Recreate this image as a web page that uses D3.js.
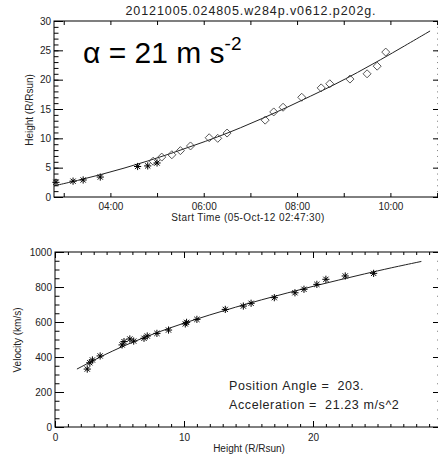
<!DOCTYPE html>
<html>
<head>
<meta charset="utf-8">
<script src="https://cdn.jsdelivr.net/npm/d3@7"></script>
<style>
  body { margin: 0; background: #fff; }
  text { font-family: "Liberation Sans", Arial, sans-serif; fill: #222; }
</style>
</head>
<body>
<div class="canvas"></div>
<script>
// height-time points (time UT, height R/Rsun)
const starTimes = ['02:50', '03:12', '03:25', '03:47', '04:35', '04:48', '05:00'];
const starHeights = [2.5, 2.7, 2.9, 3.4, 5.2, 5.3, 5.8];
const diamondTimes = ['04:55', '05:06', '05:19', '05:30', '05:43', '06:07', '06:18', '06:30',
  '07:19', '07:30', '07:42', '08:06', '08:31', '08:42', '09:08', '09:30', '09:43', '09:54'];
const diamondHeights = [6.1, 6.8, 7.2, 7.9, 8.7, 10.1, 10.0, 10.9,
  13.1, 14.5, 15.3, 17.0, 18.6, 19.3, 20.1, 21.0, 22.3, 24.7];
const fitTimes = ['02:47:30', '03:17:30', '03:47:30', '04:17:30', '04:47:30', '05:17:30', '05:47:30',
  '06:17:30', '06:47:30', '07:17:30', '07:47:30', '08:17:30', '08:47:30', '09:17:30', '09:47:30',
  '10:17:30', '10:51:00'];
const fitHeights = [1.9, 2.8, 3.8, 4.9, 6.1, 7.4, 8.8, 10.2, 11.8, 13.5, 15.3, 17.2, 19.1, 21.2,
  23.4, 25.7, 28.3];

// velocity-height points
const velHeights = [2.5, 2.7, 2.9, 3.5, 5.2, 5.35, 5.8, 6.1, 6.9, 7.15, 7.9, 8.8, 10.1, 10.2, 11.0,
  13.2, 14.6, 15.2, 17.0, 18.6, 19.3, 20.3, 21.0, 22.5, 24.7];
const velocities = [331, 367, 383, 406, 469, 488, 503, 491, 507, 520, 535, 554, 589, 598, 615,
  672, 691, 707, 739, 767, 787, 815, 844, 863, 878];
const velFitHeights = [1.7, 4, 6, 8, 10, 12, 14, 16, 18, 20, 22, 24, 26, 28.4];
const velFitValues = [331, 420, 485, 543, 594, 641, 685, 727, 766, 804, 840, 875, 909, 946];

const heightTicks = [0, 5, 10, 15, 20, 25, 30];
const velTicks = [0, 200, 400, 600, 800, 1000];
const radiusTicks = [0, 10, 20, 30];
const radiusLabels = ['0', '10', '20', ''];

const title = '20121005.024805.w284p.v0612.p202g.';
const startLabel = 'Start Time (05-Oct-12 02:47:30)';
const notes = ['Position Angle =  203.', 'Acceleration =  21.23 m/s^2'];

const W = 438, H = 455;
const parse = d3.utcParse('%H:%M:%S');
const t = s => parse(s.length === 5 ? s + ':00' : s);

const svg = d3.select('.canvas').append('svg')
  .attr('width', W).attr('height', H);
svg.append('rect').attr('width', W).attr('height', H).attr('fill', '#fff');

// ---- upper panel: height vs time
const p1 = { left: 54, right: 442, top: 21, bottom: 197 };
const x1 = d3.scaleUtc()
  .domain([t('02:47:30'), t('11:06:20')])
  .range([p1.left, p1.right]);
const y1 = d3.scaleLinear().domain([0, 30]).range([p1.bottom, p1.top]);

const fmtHour = d3.utcFormat('%H:%M');
const hours = d3.utcHour.range(t('03:00'), t('11:30'));

const g1 = svg.append('g');

const axisStyle = (sel) => {
  sel.select('.domain').remove();
  sel.selectAll('line').attr('stroke', '#000');
  sel.selectAll('text').attr('font-size', 10).attr('fill', '#222')
    .attr('font-family', '"Liberation Sans", Arial, sans-serif');
};

g1.append('g').attr('transform', `translate(0,${p1.bottom})`)
  .call(d3.axisBottom(x1).tickValues(hours).tickSizeInner(-4).tickSizeOuter(0).tickPadding(6)
    .tickFormat(d => d.getUTCHours() % 2 === 0 ? fmtHour(d) : ''))
  .call(axisStyle);
g1.append('g').attr('transform', `translate(0,${p1.top})`)
  .call(d3.axisTop(x1).tickValues(hours).tickSizeInner(-4).tickSizeOuter(0).tickFormat(''))
  .call(axisStyle);

g1.append('g').attr('transform', `translate(${p1.left},0)`)
  .call(d3.axisLeft(y1).tickValues(heightTicks).tickSizeInner(-9).tickSizeOuter(0).tickPadding(3))
  .call(axisStyle);
g1.append('g').attr('transform', `translate(${p1.left},0)`)
  .call(d3.axisLeft(y1).ticks(30).tickSizeInner(-4.5).tickSizeOuter(0).tickFormat(''))
  .call(axisStyle);
g1.append('g').attr('transform', `translate(${p1.right},0)`)
  .call(d3.axisLeft(y1).tickValues(heightTicks).tickSize(9).tickFormat(''))
  .call(axisStyle);
g1.append('g').attr('transform', `translate(${p1.right},0)`)
  .call(d3.axisLeft(y1).ticks(30).tickSize(4.5).tickFormat(''))
  .call(axisStyle);

g1.append('rect')
  .attr('x', p1.left).attr('y', p1.top)
  .attr('width', p1.right - p1.left).attr('height', p1.bottom - p1.top)
  .attr('fill', 'none').attr('stroke', '#000').attr('stroke-width', 1);

const fit1 = fitTimes.map((s, i) => [t(s), fitHeights[i]]);
g1.append('path')
  .attr('d', d3.line().x(d => x1(d[0])).y(d => y1(d[1])).curve(d3.curveBasis)(fit1))
  .attr('fill', 'none').attr('stroke', '#222').attr('stroke-width', 1);

const star = (sel, px, py) => {
  const r = 3.6;
  const k = r * 0.72;
  sel.append('path')
    .attr('d', `M${px - r},${py}H${px + r}M${px},${py - r}V${py + r}` +
      `M${px - k},${py - k}L${px + k},${py + k}` +
      `M${px - k},${py + k}L${px + k},${py - k}`)
    .attr('stroke', '#000').attr('stroke-width', 1).attr('fill', 'none');
};
const diamond = (sel, px, py) => {
  const r = 4;
  sel.append('path')
    .attr('d', `M${px},${py - r}L${px + r},${py}L${px},${py + r}L${px - r},${py}Z`)
    .attr('stroke', '#444').attr('stroke-width', 0.9).attr('fill', 'none');
};

diamondTimes.forEach((s, i) => diamond(g1, x1(t(s)), y1(diamondHeights[i])));
starTimes.forEach((s, i) => star(g1, x1(t(s)), y1(starHeights[i])));

svg.append('text').attr('x', 251).attr('y', 15).attr('text-anchor', 'middle')
  .attr('font-size', 12.5).attr('letter-spacing', 0.9).text(title);
svg.append('text').attr('x', 248).attr('y', 221).attr('text-anchor', 'middle')
  .attr('font-size', 10).attr('letter-spacing', 0.4).text(startLabel);
svg.append('text').attr('transform', 'translate(33,110) rotate(-90)')
  .attr('text-anchor', 'middle').attr('font-size', 10).text('Height (R/Rsun)');

const big = svg.append('text').attr('x', 83).attr('y', 63)
  .attr('font-size', 30).style('fill', '#000');
big.append('tspan').text('\u03b1 = 21 m s');
big.append('tspan').attr('dy', -13).attr('font-size', 19).text('-2');

// ---- lower panel: velocity vs height
const p2 = { left: 55, right: 442, top: 252, bottom: 427 };
const x2 = d3.scaleLinear().domain([0, 30]).range([p2.left, p2.right]);
const y2 = d3.scaleLinear().domain([0, 1000]).range([p2.bottom, p2.top]);

const g2 = svg.append('g');

g2.append('g').attr('transform', `translate(0,${p2.bottom})`)
  .call(d3.axisBottom(x2).tickValues(radiusTicks).tickSizeInner(-6).tickSizeOuter(0).tickPadding(7)
    .tickFormat((d, i) => radiusLabels[i]))
  .call(axisStyle);
g2.append('g').attr('transform', `translate(0,${p2.bottom})`)
  .call(d3.axisBottom(x2).ticks(30).tickSizeInner(-3).tickSizeOuter(0).tickFormat(''))
  .call(axisStyle);
g2.append('g').attr('transform', `translate(0,${p2.top})`)
  .call(d3.axisTop(x2).tickValues(radiusTicks).tickSizeInner(-6).tickSizeOuter(0).tickFormat(''))
  .call(axisStyle);
g2.append('g').attr('transform', `translate(0,${p2.top})`)
  .call(d3.axisTop(x2).ticks(30).tickSizeInner(-3).tickSizeOuter(0).tickFormat(''))
  .call(axisStyle);

g2.append('g').attr('transform', `translate(${p2.left},0)`)
  .call(d3.axisLeft(y2).tickValues(velTicks).tickSizeInner(-9).tickSizeOuter(0).tickPadding(3)
    .tickFormat(d3.format('d')))
  .call(axisStyle);
g2.append('g').attr('transform', `translate(${p2.left},0)`)
  .call(d3.axisLeft(y2).ticks(20).tickSizeInner(-4.5).tickSizeOuter(0).tickFormat(''))
  .call(axisStyle);
g2.append('g').attr('transform', `translate(${p2.right},0)`)
  .call(d3.axisLeft(y2).tickValues(velTicks).tickSize(9).tickFormat(''))
  .call(axisStyle);
g2.append('g').attr('transform', `translate(${p2.right},0)`)
  .call(d3.axisLeft(y2).ticks(20).tickSize(4.5).tickFormat(''))
  .call(axisStyle);

g2.append('rect')
  .attr('x', p2.left).attr('y', p2.top)
  .attr('width', p2.right - p2.left).attr('height', p2.bottom - p2.top)
  .attr('fill', 'none').attr('stroke', '#000').attr('stroke-width', 1);

const fit2 = velFitHeights.map((h, i) => [h, velFitValues[i]]);
g2.append('path')
  .attr('d', d3.line().x(d => x2(d[0])).y(d => y2(d[1])).curve(d3.curveBasis)(fit2))
  .attr('fill', 'none').attr('stroke', '#222').attr('stroke-width', 1);

velHeights.forEach((h, i) => star(g2, x2(h), y2(velocities[i])));

svg.append('text').attr('x', 249).attr('y', 452).attr('text-anchor', 'middle')
  .attr('font-size', 10).text('Height (R/Rsun)');
svg.append('text').attr('transform', 'translate(21,340) rotate(-90)')
  .attr('text-anchor', 'middle').attr('font-size', 10).text('Velocity (km/s)');

svg.selectAll('.note').data(notes).enter().append('text')
  .attr('class', 'note')
  .attr('x', 229).attr('y', (d, i) => 390 + i * 19)
  .attr('font-size', 12.5)
  .attr('letter-spacing', 0.6)
  .text(d => d.replace(/ /g, '\u00a0'));
</script>
</body>
</html>
